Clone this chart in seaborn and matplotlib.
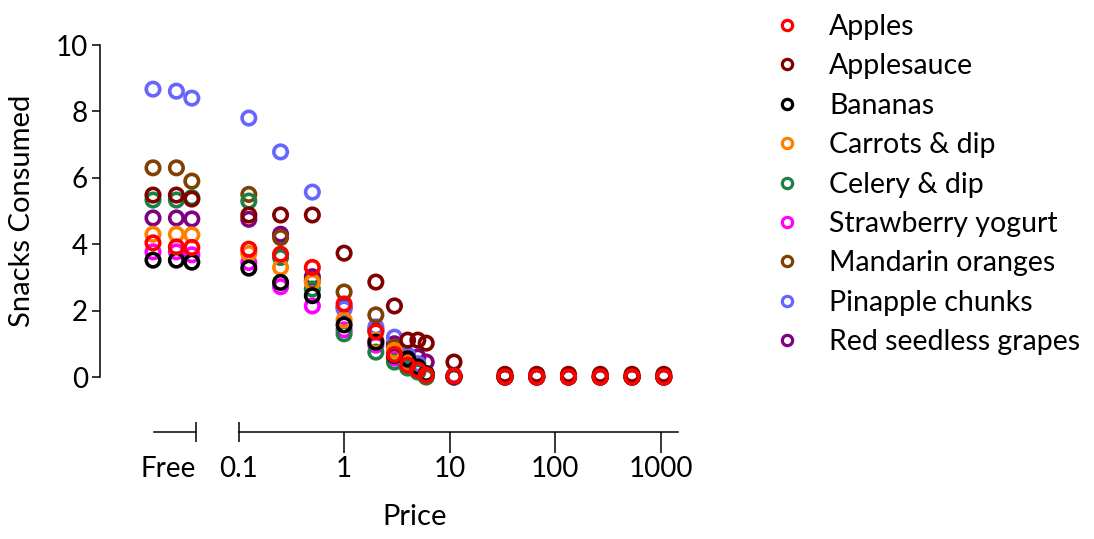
import numpy as np
import pandas as pd
import matplotlib
matplotlib.use("Agg")
import matplotlib.pyplot as plt
import seaborn as sns
from matplotlib.lines import Line2D
from matplotlib.ticker import FixedLocator, NullFormatter, FixedFormatter

# ---------------- data ----------------
snacks = ["Apples", "Applesauce", "Bananas", "Carrots & dip", "Celery & dip",
          "Strawberry yogurt", "Mandarin oranges", "Pinapple chunks", "Red seedless grapes"]
colors = ["#FF0000", "#800000", "#000000", "#FF8000", "#1A8045",
          "#FF00FF", "#804000", "#6666FF", "#800080"]

free_prices = [0.03, 0.05, 0.07]          # "Free" replicates
prices = [0.125, 0.25, 0.5, 1, 2, 3, 4, 5, 6, 11, 33.5, 67, 134, 268, 536, 1072]

apples_free = [4.04, 3.92, 3.90]
applesauce_free = [5.48, 5.48, 5.36]
bananas_free = [3.52, 3.52, 3.46]
carrots_free = [4.30, 4.30, 4.28]
celery_free = [5.33, 5.33, 5.40]
yogurt_free = [3.77, 3.77, 3.68]
mandarin_free = [6.30, 6.30, 5.90]
pineapple_free = [8.67, 8.61, 8.40]
grapes_free = [4.79, 4.79, 4.76]

apples = [3.85, 3.70, 3.30, 2.20, 1.36, 0.68, 0.36, 0.21, 0.06, 0.03, 0, 0, 0, 0, 0, 0]
applesauce = [4.88, 4.88, 4.88, 3.73, 2.86, 2.14, 1.11, 1.11, 1.02, 0.45, 0.08, 0.08, 0.08, 0.08, 0.08, 0.08]
bananas = [3.28, 2.85, 2.45, 1.57, 1.05, 0.65, 0.55, 0.30, 0.10, 0.02, 0, 0, 0, 0, 0, 0]
carrots = [3.72, 3.30, 2.85, 1.72, 1.10, 0.80, 0.40, 0.25, 0.10, 0.02, 0, 0, 0, 0, 0, 0]
celery = [5.30, 3.60, 2.65, 1.30, 0.75, 0.45, 0.27, 0.15, 0.02, 0.0, 0, 0, 0, 0, 0, 0]
yogurt = [3.45, 2.72, 2.14, 1.42, 0.96, 0.57, 0.40, 0.20, 0.05, 0.0, 0, 0, 0, 0, 0, 0]
mandarin = [5.50, 4.20, 2.90, 2.56, 1.87, 0.90, 0.50, 0.30, 0.0, 0.0, 0, 0, 0, 0, 0, 0]
pineapple = [7.80, 6.78, 5.57, 2.05, 1.51, 1.20, 0.66, 0.40, 0.10, 0.05, 0, 0, 0, 0, 0, 0]
grapes = [4.75, 4.30, 3.02, 2.10, 1.42, 1.00, 0.50, 0.60, 0.45, 0.0, 0, 0, 0, 0, 0, 0]

free_vals = [apples_free, applesauce_free, bananas_free, carrots_free, celery_free,
             yogurt_free, mandarin_free, pineapple_free, grapes_free]
priced_vals = [apples, applesauce, bananas, carrots, celery, yogurt, mandarin, pineapple, grapes]

y_ticks = [0, 2, 4, 6, 8, 10]
x_ticks = [1, 10, 100, 1000]
x_tick_labels = ["1", "10", "100", "1000"]

# ---------------- long tables (drawn in reverse legend order) ----------------
rows_free, rows_priced = [], []
for name, fv, pv in reversed(list(zip(snacks, free_vals, priced_vals))):
    for p, v in zip(free_prices, fv):
        rows_free.append((name, p, v))
    for p, v in zip(prices, pv):
        rows_priced.append((name, p, v))
df_free = pd.DataFrame(rows_free, columns=["snack", "price", "consumed"])
df_priced = pd.DataFrame(rows_priced, columns=["snack", "price", "consumed"])

# ---------------- style ----------------
sns.set_theme(style="white")
plt.rcParams["font.family"] = ["Lato", "DejaVu Sans"]
plt.rcParams["axes.linewidth"] = 1.1
plt.rcParams["text.color"] = "black"
plt.rcParams["axes.edgecolor"] = "black"
plt.rcParams["xtick.color"] = "black"
plt.rcParams["ytick.color"] = "black"

TICK_FS = 20
LBL_FS = 21
LEG_FS = 20.5

W, H = 1094, 539
fig = plt.figure(figsize=(W / 100, H / 100), dpi=100)

DEC = 105.5                  # pixels per decade
top_px, bot_px = 45, 432
y_lo = -(bot_px - 377) / 33.2
ax_b = (H - bot_px) / H
ax_h = (bot_px - top_px) / H

# main (log) axes
x0_px, x1_px = 238.6, 678
ax = fig.add_axes([x0_px / W, ax_b, (x1_px - x0_px) / W, ax_h])
ax.set_xscale("log")
ax.set_xlim(0.1, 10 ** (-1 + (x1_px - x0_px) / DEC))

# free axes
f0_px, f1_px = 100, 196
pt_px = 153
lf = np.log10(free_prices[0])
axf = fig.add_axes([f0_px / W, ax_b, (f1_px - f0_px) / W, ax_h])
axf.set_xscale("log")
axf.set_xlim(10 ** (lf - (pt_px - f0_px) / DEC), 10 ** (lf + (f1_px - pt_px) / DEC))

pal = dict(zip(snacks, colors))
for a, d in ((axf, df_free), (ax, df_priced)):
    sns.scatterplot(data=d, x="price", y="consumed", hue="snack", hue_order=snacks,
                    palette=pal, s=94, ax=a, legend=False, clip_on=False)
    coll = a.collections[-1]
    fc = coll.get_facecolors()
    coll.set_edgecolors(fc)
    coll.set_facecolors("none")
    coll.set_linewidths(2.6)
    coll.set_clip_on(False)
    a.set_ylim(y_lo, 10)
    a.set_xlabel("")
    a.set_ylabel("")
    a.patch.set_alpha(0)
    for s in ("top", "right"):
        a.spines[s].set_visible(False)

# y axis on free axes
axf.spines["left"].set_bounds(0, 10)
axf.set_yticks(y_ticks)
axf.set_yticklabels([str(t) for t in y_ticks])
axf.tick_params(axis="y", direction="out", length=5.8, width=1.1, pad=3,
                labelsize=TICK_FS, colors="black", left=True)
ax.spines["left"].set_visible(False)
ax.tick_params(axis="y", left=False, labelleft=False)

# free x segment
free_lbl = 10 ** (lf + (168 - pt_px) / DEC)
axf.spines["bottom"].set_bounds(10 ** (lf + (154 - pt_px) / DEC), axf.get_xlim()[1])
axf.xaxis.set_major_locator(FixedLocator([free_lbl]))
axf.xaxis.set_major_formatter(FixedFormatter(["Free"]))
axf.xaxis.set_minor_locator(FixedLocator([axf.get_xlim()[1]]))
axf.xaxis.set_minor_formatter(NullFormatter())
axf.tick_params(axis="x", which="major", length=0, pad=2 + 15, labelsize=TICK_FS, bottom=True)
axf.tick_params(axis="x", which="minor", direction="inout", length=15, width=1.1, bottom=True)

# main x segment
ax.xaxis.set_major_locator(FixedLocator(x_ticks))
ax.xaxis.set_major_formatter(FixedFormatter(x_tick_labels))
ax.xaxis.set_minor_locator(FixedLocator([0.1]))
ax.xaxis.set_minor_formatter(FixedFormatter(["0.1"]))
ax.tick_params(axis="x", which="major", direction="out", length=15, width=1.1, pad=2,
               labelsize=TICK_FS, bottom=True)
ax.tick_params(axis="x", which="minor", direction="inout", length=15, width=1.1, pad=2 + 7.5,
               labelsize=TICK_FS, bottom=True)

for t in axf.get_xticklabels() + ax.get_xticklabels(minor=True) + ax.get_xticklabels():
    t.set_color("black")

# axis titles
fig.text(415 / W, 1 - 517 / H, "Price", ha="center", va="center", fontsize=LBL_FS, color="black")
fig.text(22 / W, 1 - 211 / H, "Snacks Consumed", ha="center", va="center",
         rotation=90, fontsize=LBL_FS, color="black")

# legend
handles = [Line2D([], [], ls="none", marker="o", ms=7.4, mfc="none", mec=c, mew=2.3)
           for c in colors]
fig.legend(handles, snacks, loc="upper left", bbox_to_anchor=(773 / W, 1 - 14 / H),
           frameon=False, fontsize=LEG_FS, handlelength=1.0, handletextpad=0.98,
           labelspacing=0.47, borderaxespad=0, borderpad=0, labelcolor="black")

fig.savefig("out.png", dpi=100)
